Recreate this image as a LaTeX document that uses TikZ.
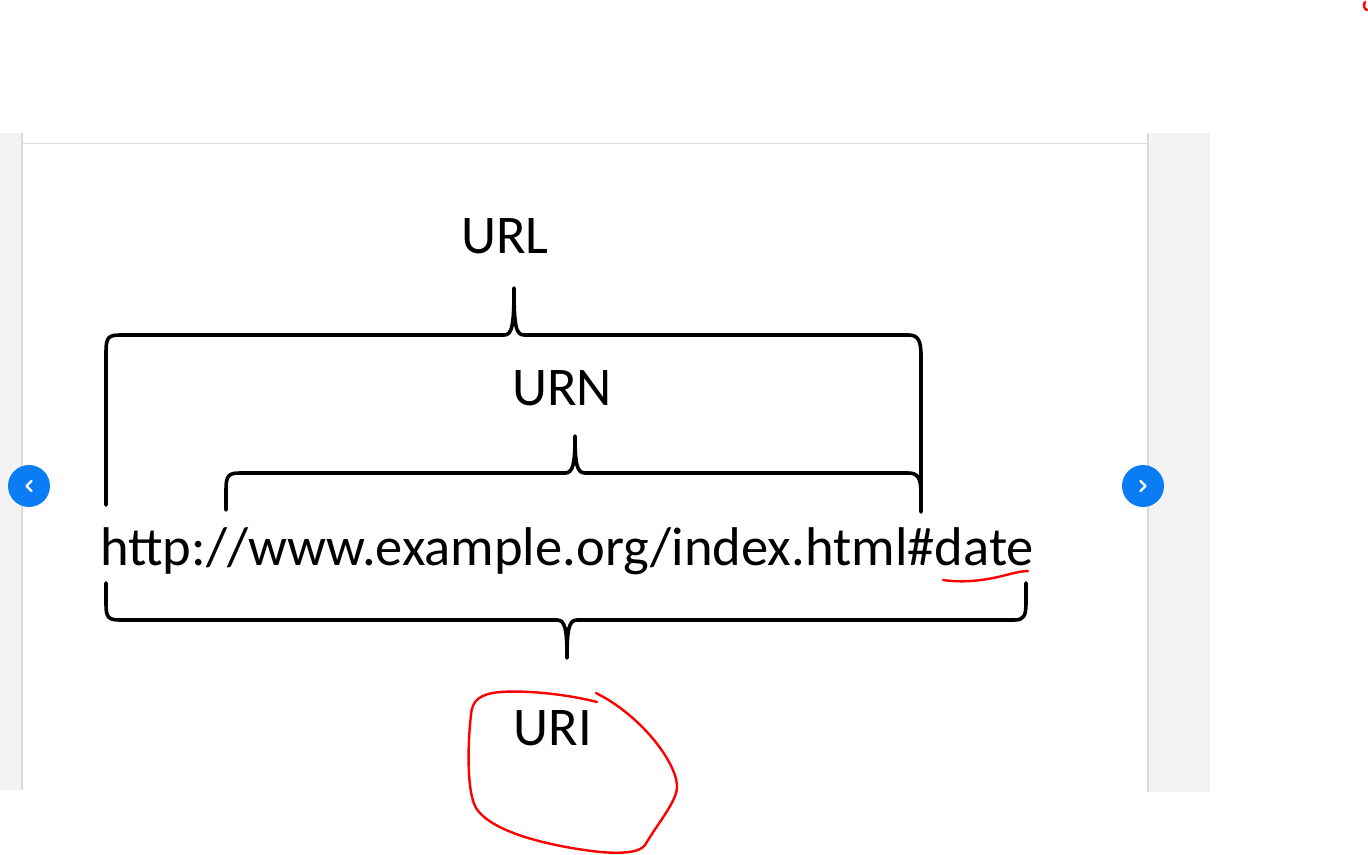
\documentclass[tikz,border=0pt]{standalone}
\usepackage{fontspec}
\setmainfont{Carlito}
\definecolor{navblue}{HTML}{0A7CF4}
\definecolor{panelgray}{HTML}{F3F3F3}
\definecolor{edgegray}{HTML}{DADADA}

\begin{document}
\begin{tikzpicture}[
    x=1pt,
    y=-1pt,
    klammer/.style={draw, line width=3.6pt, line join=round, line cap=round},
    notiz/.style={draw=red, line width=2.4pt, line cap=round, line join=round},
    etikett/.style={font=\fontsize{54.5}{64}\selectfont, inner sep=0pt, anchor=base},
    knopf/.style={circle, fill=navblue, minimum size=42pt, inner sep=0pt}
]
\useasboundingbox (0,0) rectangle (1368,854);

% Rahmen der Ansicht
\fill[panelgray] (0,133) rectangle (22,790);
\fill[panelgray] (1148,133) rectangle (1210,792);
\draw[edgegray, line width=1.5pt] (22,133) -- (22,790);
\draw[edgegray, line width=1.5pt] (1148,133) -- (1148,792);
\draw[edgegray, line width=1pt] (22,143) -- (1148,143);

% Beschriftungen
\node[etikett] (url) at (505,253) {URL};
\node[etikett] (urn) at (562,405) {URN};
\node[etikett, anchor=base west] (adresse) at (100,565) {http://www.example.org/index.html\#date};
\node[etikett] (uri) at (553,745) {URI};

% Klammern
\coordinate (urlspitze) at (514,288);
\coordinate (urnspitze) at (575,436);
\coordinate (urispitze) at (567,658);
\draw[klammer] (106,505) -- (106,352) .. controls (106,338) and (108,335) .. (120,335)
    -- (504,335) .. controls (512,335) and (514,326) .. (urlspitze)
    .. controls (514,326) and (516,335) .. (524,335)
    -- (908,335) .. controls (918,335) and (921,340) .. (921,356) -- (921,512);
\draw[klammer] (226,510) -- (226,490) .. controls (226,476) and (228,473) .. (240,473)
    -- (565,473) .. controls (573,473) and (575,464) .. (urnspitze)
    .. controls (575,464) and (577,473) .. (585,473)
    -- (908,473) .. controls (918,473) and (921,478) .. (921,494);
\draw[klammer] (106,583) -- (106,604) .. controls (106,617) and (108,620) .. (120,620)
    -- (557,620) .. controls (565,620) and (567,629) .. (urispitze)
    .. controls (567,629) and (569,620) .. (577,620)
    -- (1014,620) .. controls (1024,620) and (1026,616) .. (1026,602) -- (1026,583);

% Navigation
\node[knopf] (zurueck) at (29,486) {};
\node[knopf] (weiter) at (1143,486) {};
\draw[white, line width=2.2pt, line cap=round, line join=round]
    ([xshift=2.5pt,yshift=5pt]zurueck.center) -- ([xshift=-2.5pt]zurueck.center) -- ([xshift=2.5pt,yshift=-5pt]zurueck.center);
\draw[white, line width=2.2pt, line cap=round, line join=round]
    ([xshift=-2.5pt,yshift=5pt]weiter.center) -- ([xshift=2.5pt]weiter.center) -- ([xshift=-2.5pt,yshift=-5pt]weiter.center);

% Handschriftliche Notizen
\draw[notiz] (943,580) .. controls (970,584) and (995,578) .. (1010,574) .. controls (1018,572) and (1024,571) .. (1028,571);
\draw[notiz] (597,702) .. controls (570,695) and (530,690) .. (500,692)
    .. controls (480,694) and (472,700) .. (471,715)
    .. controls (468,740) and (466,790) .. (476,808)
    .. controls (490,830) and (540,845) .. (600,852)
    .. controls (625,854) and (640,852) .. (645,845)
    .. controls (660,820) and (678,800) .. (677,785)
    .. controls (675,760) and (640,715) .. (596,693);
\draw[notiz] (1365,2) .. controls (1363,5) and (1364,9) .. (1367,10);
\end{tikzpicture}
\end{document}
